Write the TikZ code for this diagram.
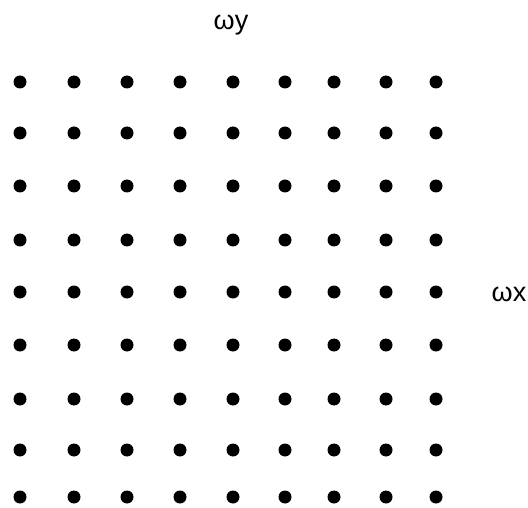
\documentclass[tikz,border=0pt]{standalone}
\usepackage{fontspec}
\setmainfont{Liberation Sans}
\begin{document}
\begin{tikzpicture}[x=1pt,y=-1pt,
  dotnode/.style={circle,fill=black,inner sep=0pt,minimum size=13pt},
  lab/.style={font=\fontsize{27}{30}\selectfont,inner sep=0pt}]
\useasboundingbox (0,0) rectangle (528,508);
\foreach \c [count=\i] in {20,74,127,180,233,285,334,386,436}{
  \foreach \r [count=\j] in {82,133,186,240,292,345,399,450,497}{
    \node[dotnode] (d-\i-\j) at (\c,\r) {};
  }
}
\node[lab] (wy) at (231,25) {ωy};
\node[lab] (wx) at (509,294) {ωx};
\end{tikzpicture}
\end{document}
